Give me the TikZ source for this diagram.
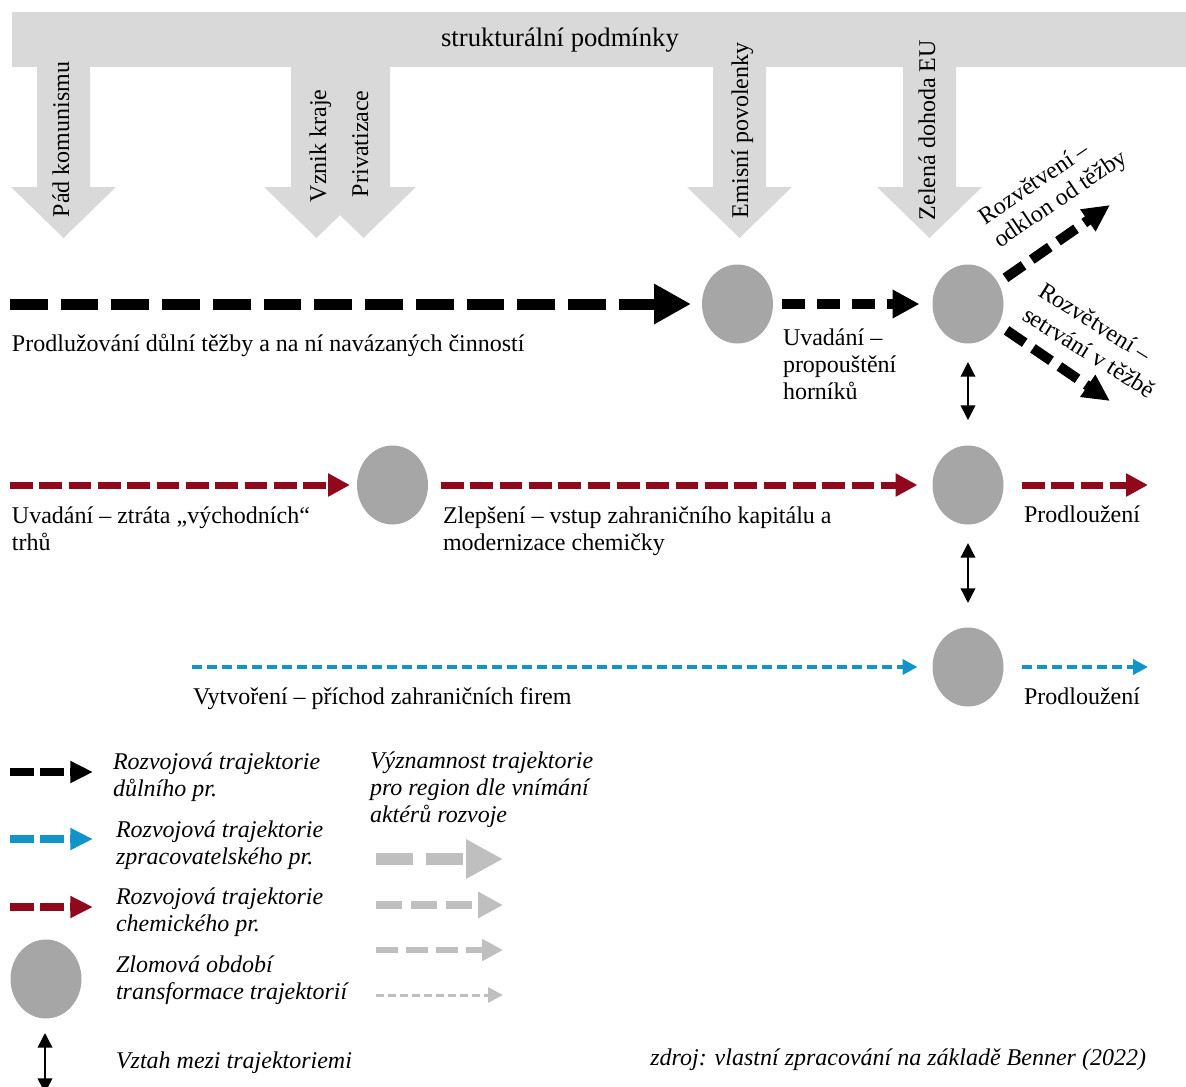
\documentclass[tikz,border=0pt]{standalone}
\usepackage{fontspec}
\setmainfont{Liberation Serif}
\usetikzlibrary{arrows.meta,shapes.geometric}
\definecolor{barcol}{HTML}{D9D9D9}
\definecolor{blobcol}{HTML}{A6A6A6}
\definecolor{redcol}{RGB}{143,8,28}
\definecolor{bluecol}{RGB}{18,148,200}
\definecolor{legcol}{HTML}{BFBFBF}
\begin{document}
\begin{tikzpicture}[x=0.75pt,y=-0.75pt,
  every node/.style={font=\fontsize{18}{20.5}\selectfont, inner sep=0pt, outer sep=0pt},
  lbl/.style={anchor=base west},
  mlbl/.style={anchor=north west, align=left},
  ital/.style={font=\fontsize{18}{20.5}\selectfont\itshape},
  blob/.style={ellipse, fill=blobcol, minimum width=53.25pt, minimum height=59.25pt},
  barshape/.style={fill=barcol},
  blkA/.style={draw=black, line width=8.25pt, dash pattern=on 28.3pt off 9.75pt, -{Triangle[length=27.75pt,width=28.5pt]}},
  blkB/.style={draw=black, line width=7.5pt, dash pattern=on 17.25pt off 9pt, -{Triangle[length=20.25pt,width=20.25pt]}},
  blkC/.style={draw=black, line width=7.5pt, dash pattern=on 16.5pt off 7.5pt, -{Triangle[length=20.25pt,width=18.75pt]}},
  redA/.style={draw=redcol, line width=5.25pt, dash pattern=on 16.9pt off 5.1pt, -{Triangle[length=16.5pt,width=16.5pt]}},
  bluA/.style={draw=bluecol, line width=3pt, dash pattern=on 7.5pt off 3.75pt, -{Triangle[length=11.25pt,width=11.25pt]}},
  rel/.style={draw=black, line width=1.1pt, {Triangle[length=11pt,width=11pt]}-{Triangle[length=11pt,width=11pt]}},
  legA/.style={line width=6pt, dash pattern=on 18pt off 4.5pt, -{Triangle[length=17pt,width=15.5pt]}},
  gry1/.style={draw=legcol, line width=9pt, dash pattern=on 27.75pt off 9.75pt, -{Triangle[length=27.75pt,width=27.75pt]}},
  gry2/.style={draw=legcol, line width=6pt, dash pattern=on 19.5pt off 6.75pt, -{Triangle[length=18.75pt,width=18.75pt]}},
  gry3/.style={draw=legcol, line width=5pt, dash pattern=on 16.5pt off 6pt, -{Triangle[length=15.75pt,width=15.75pt]}},
  gry4/.style={draw=legcol, line width=2.25pt, dash pattern=on 6pt off 3pt, -{Triangle[length=11.25pt,width=11.25pt]}},
]
\useasboundingbox (0,0) rectangle (1186,1086);

% ---- top bar with arrows
\fill[barshape] (12,12) rectangle (1186,66.5);
\fill[barshape] (37,60) -- (37,187) -- (11,187) -- (63.5,238) -- (116,187) -- (90,187) -- (90,60) -- cycle;
\fill[barshape] (291,60) -- (291,187) -- (264,187) -- (316.5,238) -- (369,187) -- (342,187) -- (342,60) -- cycle;
\fill[barshape] (337,60) -- (337,187) -- (311,187) -- (363.5,238) -- (416,187) -- (390,187) -- (390,60) -- cycle;
\fill[barshape] (713,60) -- (713,187) -- (687,187) -- (739.5,238) -- (792,187) -- (766,187) -- (766,60) -- cycle;
\fill[barshape] (903,60) -- (903,187) -- (877,187) -- (929.5,238) -- (982,187) -- (956,187) -- (956,60) -- cycle;

\node[anchor=base, font=\fontsize{20}{22}\selectfont] (bar) at (560,46.5) {strukturální podmínky};
\node[lbl, rotate=90] (f1) at (69,217) {Pád komunismu};
\node[lbl, rotate=90] (f2) at (326,202) {Vznik kraje};
\node[lbl, rotate=90] (f3) at (368,197) {Privatizace};
\node[lbl, rotate=90] (f4) at (748,218) {Emisní povolenky};
\node[lbl, rotate=90] (f5) at (935,220) {Zelená dohoda EU};

% ---- turning points
\node[blob] (e1) at (737.5,304) {};
\node[blob] (e2) at (968,304) {};
\node[blob] (e3) at (392.5,485) {};
\node[blob] (e4) at (968,485) {};
\node[blob] (e5) at (968,667) {};

\coordinate (s1) at (10,304);
\coordinate (b1) at (1110,205);
\coordinate (b2) at (1110,401);
\coordinate (s3) at (10,485);
\coordinate (r4) at (1148,485);
\coordinate (s5) at (192,667);
\coordinate (r5) at (1148,667);

% ---- mining trajectory
\draw[blkA, shorten >=8.25pt] (s1) -- (e1);
\draw[blkB, shorten <=6.75pt, shorten >=9.75pt] (e1) -- (e2);
\draw[blkC, shorten <=6.75pt] (e2) -- (b1);
\draw[blkC, shorten <=7.5pt] (e2) -- (b2);

\node[lbl] (t1) at (12,351) {Prodlužování důlní těžby a na ní navázaných činností};
\node[mlbl] (t2) at (783,325.9) {\strut Uvadání –\\propouštění\\horníků};
\node[lbl, rotate=34] (t3a) at (985,225) {Rozvětvení –};
\node[lbl, rotate=34] (t3b) at (1000,248) {odklon od těžby};
\node[lbl, rotate=-32] (t4a) at (1037,295) {Rozvětvení –};
\node[lbl, rotate=-32] (t4b) at (1021,319) {setrvání v těžbě};

% ---- chemical trajectory
\draw[redA, shorten >=5.25pt] (s3) -- (e3);
\draw[redA, shorten <=9.75pt, shorten >=11.25pt] (e3) -- (e4);
\draw[redA, shorten <=13.9pt] (e4) -- (r4);
\node[mlbl] (t5) at (12,503.9) {\strut Uvadání – ztráta „východních“\\trhů};
\node[mlbl] (t6) at (443,503.9) {\strut Zlepšení – vstup zahraničního kapitálu a\\modernizace chemičky};
\node[lbl] (t7) at (1024,522) {Prodloužení};

% ---- manufacturing trajectory
\draw[bluA, shorten >=11.25pt] (s5) -- (e5);
\draw[bluA, shorten <=13.9pt] (e5) -- (r5);
\node[lbl] (t8) at (193,704) {Vytvoření – příchod zahraničních firem};
\node[lbl] (t9) at (1024,704) {Prodloužení};

% ---- relations
\draw[rel, shorten <=13.9pt, shorten >=19.1pt] (e2) -- (e4);
\draw[rel, shorten <=13.9pt, shorten >=18.4pt] (e4) -- (e5);

% ---- legend
\coordinate (la1) at (10,772); \coordinate (la2) at (93,772);
\coordinate (lb1) at (10,839); \coordinate (lb2) at (93,839);
\coordinate (lc1) at (10,907); \coordinate (lc2) at (93,907);
\draw[legA, draw=black] (la1) -- (la2);
\draw[legA, draw=bluecol] (lb1) -- (lb2);
\draw[legA, draw=redcol] (lc1) -- (lc2);
\node[blob] (e6) at (46,979) {};
\coordinate (ld1) at (45,1033); \coordinate (ld2) at (45,1093);
\draw[rel] (ld1) -- (ld2);

\node[mlbl, ital] (l1) at (113,749.9) {\strut Rozvojová trajektorie\\důlního pr.};
\node[mlbl, ital] (l2) at (116,817.9) {\strut Rozvojová trajektorie\\zpracovatelského pr.};
\node[mlbl, ital] (l3) at (116,884.9) {\strut Rozvojová trajektorie\\chemického pr.};
\node[mlbl, ital] (l4) at (116,952.9) {\strut Zlomová období\\transformace trajektorií};
\node[lbl, ital] (l5) at (116,1068) {Vztah mezi trajektoriemi};
\node[mlbl, ital] (l6) at (370,748.9) {\strut Významnost trajektorie\\pro region dle vnímání\\aktérů rozvoje};

\coordinate (g1a) at (376,859); \coordinate (g1b) at (503,859);
\coordinate (g2a) at (376,905); \coordinate (g2b) at (503,905);
\coordinate (g3a) at (376,950); \coordinate (g3b) at (503,950);
\coordinate (g4a) at (376,995); \coordinate (g4b) at (503,995);
\draw[gry1] (g1a) -- (g1b);
\draw[gry2] (g2a) -- (g2b);
\draw[gry3] (g3a) -- (g3b);
\draw[gry4] (g4a) -- (g4b);

\node[anchor=base east, ital] (src) at (1146,1065) {zdroj: vlastní zpracování na základě Benner (2022)};
\end{tikzpicture}
\end{document}
